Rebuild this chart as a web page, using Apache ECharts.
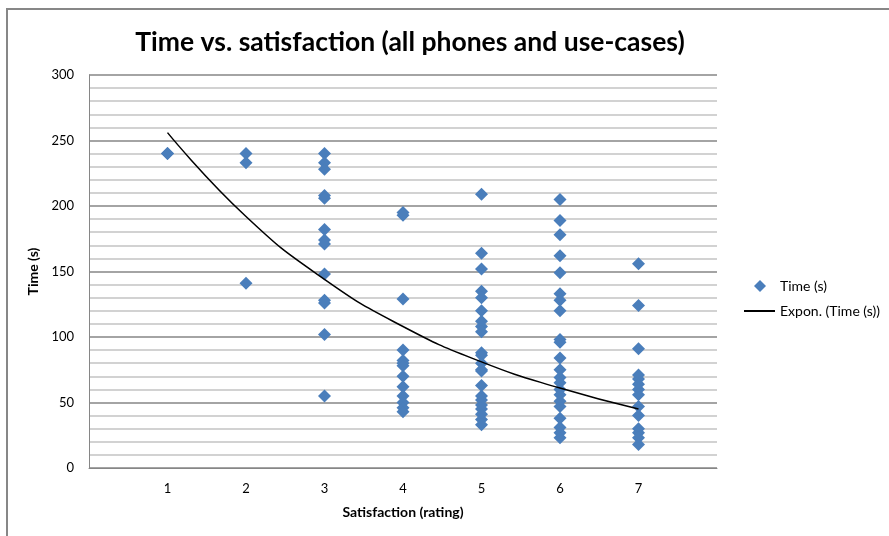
<!DOCTYPE html>
<html>
<head>
<meta charset="utf-8">
<script src="https://cdn.jsdelivr.net/npm/echarts@6/dist/echarts.min.js"></script>
<style>html,body{margin:0;padding:0;background:#fff;}#c{width:889px;height:536px;}</style>
</head>
<body>
<div id="c"></div>
<script>
// Satisfaction ratings (x) and observed times (s) per rating
const ratings = [1, 2, 3, 4, 5, 6, 7];
const timesAt1 = [240, 240];
const timesAt2 = [240, 233, 141];
const timesAt3 = [240, 233, 228, 208, 206, 182, 174, 171, 148, 128, 126, 102, 55];
const timesAt4 = [195, 193, 129, 90, 82, 80, 78, 70, 62, 55, 50, 46, 43];
const timesAt5 = [209, 164, 152, 135, 130, 120, 112, 108, 104, 88, 86, 80, 75, 74, 63, 55, 52, 48, 45, 41, 37, 33];
const timesAt6 = [205, 189, 178, 162, 149, 133, 128, 120, 98, 96, 84, 75, 69, 65, 60, 56, 51, 47, 38, 31, 27, 23];
const timesAt7 = [156, 124, 91, 71, 68, 64, 60, 56, 47, 40, 30, 27, 23, 18];
// Exponential trendline values read at each rating
const trendValues = [256, 192, 144, 108, 81, 61, 45];
const yTicks = [0, 50, 100, 150, 200, 250, 300];

const groups = [timesAt1, timesAt2, timesAt3, timesAt4, timesAt5, timesAt6, timesAt7];
const scatterData = [];
groups.forEach((g, i) => g.forEach(v => scatterData.push([ratings[i], v])));
const trendData = ratings.map((r, i) => [r, trendValues[i]]);

const font = 'Lato, "Open Sans", sans-serif';
const chart = echarts.init(document.getElementById('c'));
chart.setOption({
  animation: false,
  backgroundColor: '#ffffff',
  title: {
    text: 'Time vs. satisfaction (all phones and use-cases)',
    left: 405, top: 24, textAlign: 'center',
    textStyle: { fontFamily: font, fontWeight: 'bold', fontSize: 26.5, color: '#000' }
  },
  graphic: [{
    type: 'rect', silent: true,
    shape: { x: 7, y: 9, width: 900, height: 560 },
    style: { fill: 'none', stroke: '#878787', lineWidth: 2 }
  }],
  legend: [{
    data: [{ name: 'Time (s)', icon: 'diamond' }], orient: 'vertical', left: 754, top: 279, padding: 0,
    itemWidth: 12, itemHeight: 12,
    textStyle: { fontFamily: font, fontSize: 14, color: '#000', padding: [0, 0, 0, 9] }
  }, {
    data: [{ name: 'Expon. (Time (s))', icon: 'rect' }], orient: 'vertical', left: 744, top: 304, padding: 0,
    itemWidth: 31, itemHeight: 2,
    textStyle: { fontFamily: font, fontSize: 14, color: '#000' }
  }],
  grid: { left: 89, top: 75, width: 628, height: 393, containLabel: false },
  xAxis: {
    type: 'value', min: 0, max: 8, interval: 1,
    name: 'Satisfaction (rating)', nameLocation: 'middle', nameGap: 37,
    nameTextStyle: { fontFamily: font, fontWeight: 'bold', fontSize: 14, color: '#000' },
    axisLine: { show: true, lineStyle: { color: '#868686', width: 1 } },
    axisTick: { show: false },
    splitLine: { show: false },
    axisLabel: {
      margin: 14, fontFamily: font, fontSize: 13, color: '#000',
      formatter: v => (v >= 1 && v <= 7) ? String(v) : ''
    }
  },
  yAxis: {
    type: 'value', min: 0, max: 300, interval: 50,
    name: 'Time (s)', nameLocation: 'middle', nameGap: 40, nameRotate: 90,
    nameTextStyle: { fontFamily: font, fontWeight: 'bold', fontSize: 14, color: '#000' },
    axisLine: { show: true, lineStyle: { color: '#868686', width: 1 } },
    axisTick: { show: false },
    axisLabel: {
      margin: 15, fontFamily: font, fontSize: 13, color: '#000',
      formatter: v => yTicks.includes(v) ? String(v) : ''
    },
    splitLine: { show: true, lineStyle: { color: '#868686', width: 1.5 } },
    minorTick: { show: false, splitNumber: 5 },
    minorSplitLine: { show: true, lineStyle: { color: '#c4c4c4', width: 1.5 } }
  },
  series: [{
    name: 'Time (s)', type: 'scatter', data: scatterData,
    symbol: 'diamond', symbolSize: 13,
    itemStyle: { color: '#4a7ebb', opacity: 1 }, z: 3
  }, {
    name: 'Expon. (Time (s))', type: 'line', data: trendData,
    smooth: 0.5, showSymbol: false, symbol: 'none',
    lineStyle: { color: '#000', width: 1.5 },
    itemStyle: { color: '#000' }, z: 4
  }]
});
</script>
</body>
</html>
